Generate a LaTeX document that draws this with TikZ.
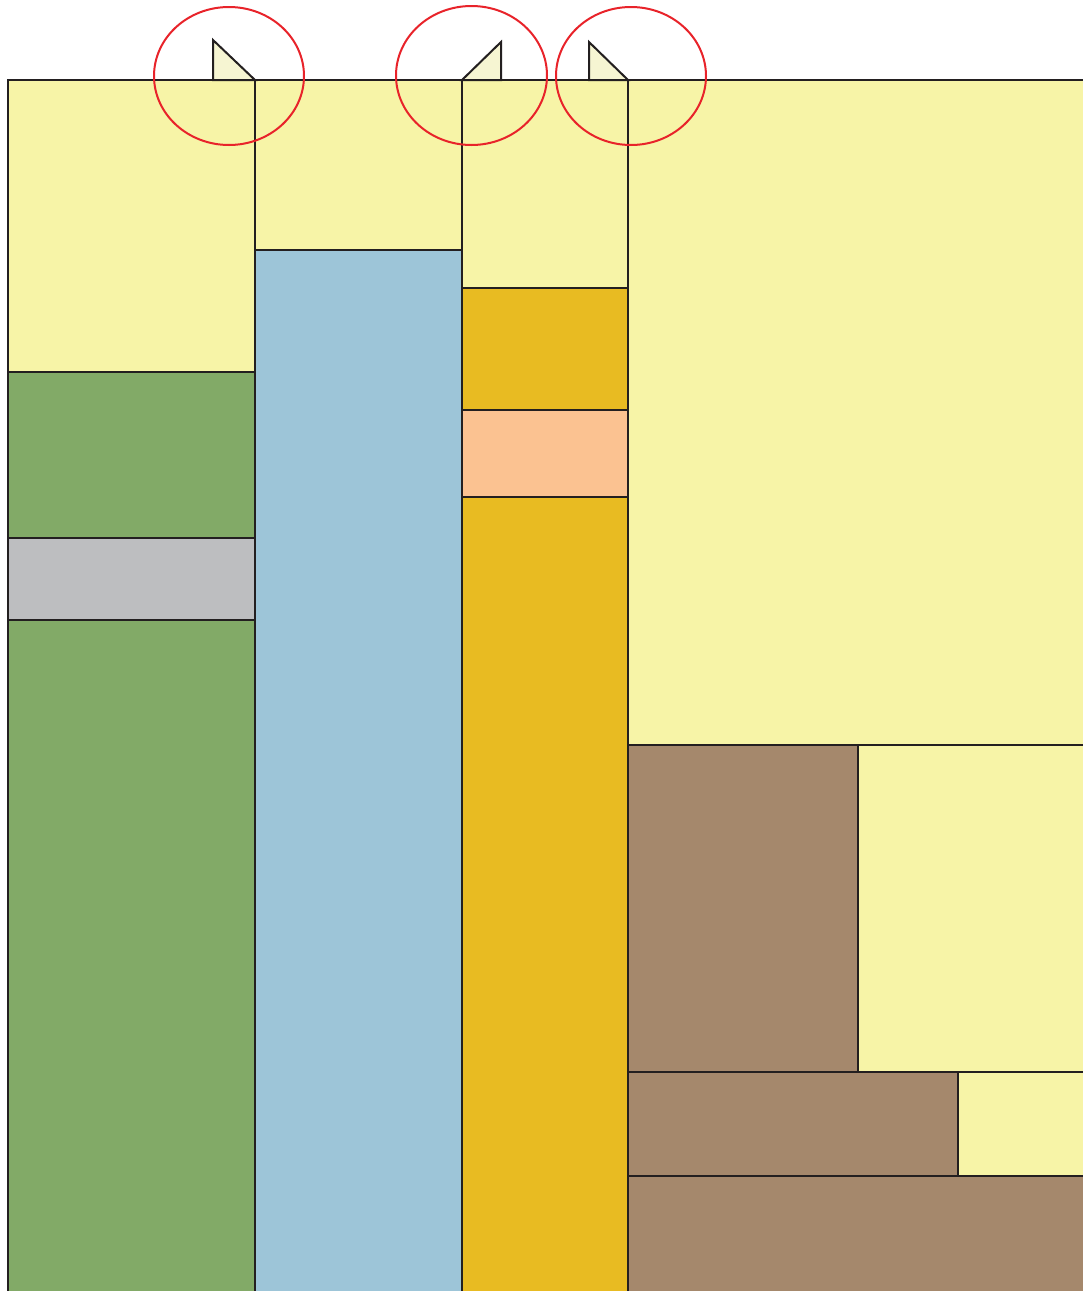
\documentclass[tikz,border=0pt]{standalone}
\usepackage{xcolor}
\usepackage{tikz}
\definecolor{cline}{HTML}{231F20}
\definecolor{csand}{HTML}{F7F4A7}
\definecolor{ctip}{HTML}{F6F5D2}
\definecolor{cgreen}{HTML}{82AA67}
\definecolor{cgray}{HTML}{BDBEC0}
\definecolor{cblue}{HTML}{9DC5D8}
\definecolor{cgold}{HTML}{E8BB22}
\definecolor{cpeach}{HTML}{FBC291}
\definecolor{cbrown}{HTML}{A5886C}
\definecolor{cred}{HTML}{E8232A}
\tikzset{
  layer/.style = {draw=cline, line width=2pt, line join=miter},
  tip/.style   = {draw=cline, fill=ctip, line width=2pt, line join=miter},
  ring/.style  = {draw=cred, line width=2pt},
}

\begin{document}
\begin{tikzpicture}[x=1pt, y=-1pt]
  \useasboundingbox (0,0) rectangle (1083,1291);
  \clip (0,0) rectangle (1083,1291);
  % layers: x0/y0/x1/y1/colour
  \foreach \xa/\ya/\xb/\yb/\c in {
      8/80/255/372/csand, 8/372/255/538/cgreen, 8/538/255/620/cgray, 8/620/255/1300/cgreen,
      255/80/462/250/csand, 255/250/462/1300/cblue,
      462/80/628/288/csand, 462/288/628/410/cgold, 462/410/628/497/cpeach, 462/497/628/1300/cgold,
      628/80/1095/745/csand,
      628/745/858/1072/cbrown, 858/745/1095/1072/csand,
      628/1072/958/1176/cbrown, 958/1072/1095/1176/csand,
      628/1176/1095/1300/cbrown} {
    \filldraw[layer, fill=\c] (\xa,\ya) rectangle (\xb,\yb);
  }
  % small tips on the top line
  \draw[tip] (213,80) -- (213,40) -- (255,80) -- cycle;
  \draw[tip] (501,80) -- (501,42) -- (462,80) -- cycle;
  \draw[tip] (589,80) -- (589,42) -- (628,80) -- cycle;
  % marks
  \draw[ring] (229,76) ellipse [x radius=75, y radius=69];
  \draw[ring] (471.5,75.5) ellipse [x radius=75.5, y radius=69.5];
  \draw[ring] (631,76) ellipse [x radius=75, y radius=69];
\end{tikzpicture}
\end{document}
